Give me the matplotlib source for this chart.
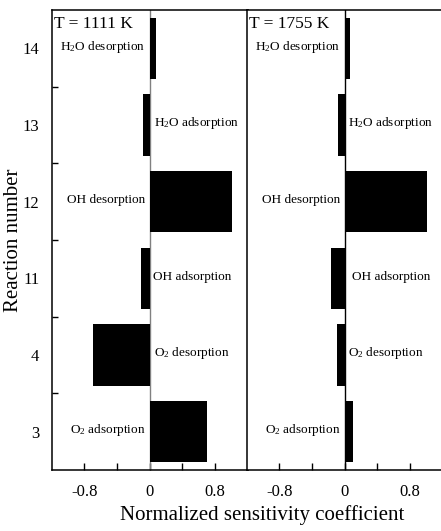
import matplotlib
matplotlib.use("Agg")
import matplotlib.pyplot as plt
import numpy as np

plt.rcParams['font.family'] = ['Liberation Serif', 'DejaVu Serif']
plt.rcParams['mathtext.fontset'] = 'custom'
plt.rcParams['mathtext.rm'] = 'Liberation Serif'
plt.rcParams['mathtext.it'] = 'Liberation Serif:italic'

reactions = ['3', '4', '11', '12', '13', '14']
names = [r'O$\mathregular{_2}$ adsorption', r'O$\mathregular{_2}$ desorption',
         'OH adsorption', 'OH desorption',
         r'H$\mathregular{_2}$O adsorption', r'H$\mathregular{_2}$O desorption']
sens_1111 = [0.70, -0.70, -0.11, 1.01, -0.08, 0.08]
sens_1755 = [0.10, -0.10, -0.17, 1.01, -0.08, 0.07]
titles = ['T = 1111 K', 'T = 1755 K']
xticks = [-0.8, -0.4, 0, 0.4, 0.8]
xticklabels = ['-0.8', '', '0', '', '0.8']

# label x offset (data units) for each panel
label_x = [[-0.05, 0.05, 0.04, -0.05, 0.05, -0.05],
           [-0.05, 0.04, 0.085, -0.05, 0.035, -0.05]]

W, H = 441, 531
fig = plt.figure(figsize=(W / 100, H / 100), dpi=100)
ax_w = 196 / W
bottom = (H - 470) / H
height = 460 / H
ax1 = fig.add_axes([51.7 / W, bottom, ax_w, height])
ax2 = fig.add_axes([246.7 / W, bottom, ax_w, height])

y = np.arange(len(reactions))
for i, (ax, vals, title) in enumerate(zip([ax1, ax2], [sens_1111, sens_1755], titles)):
    ax.barh(y, vals, height=0.8, color='black', zorder=3)
    ax.axvline(0, color='gray' if i == 0 else 'black', lw=1.0, zorder=2)
    ax.set_xlim(-1.2, 1.2)
    ax.set_ylim(-0.5, len(reactions) - 0.5)
    ax.set_xticks(xticks)
    ax.set_xticklabels(xticklabels)
    ax.tick_params(axis='x', direction='in', length=5, width=1.0,
                   labelsize=12, pad=10, top=False)
    for s in ax.spines.values():
        s.set_linewidth(1.1)
    ax.text(0.01, 0.988, title, transform=ax.transAxes, ha='left', va='top',
            fontsize=12.5)
    for j, (v, nm) in enumerate(zip(vals, names)):
        lx = label_x[i][j]
        ax.text(lx, y[j] + 0.02, nm, ha='right' if lx < 0 else 'left',
                va='center', fontsize=9.5)

ax1.set_yticks(y)
ax1.set_yticklabels(reactions)
ax1.set_yticks(np.arange(len(reactions) - 1) + 0.5, minor=True)
ax1.tick_params(axis='y', which='major', length=0, labelsize=12, pad=9)
ax1.tick_params(axis='y', which='minor', direction='in', length=4.5, width=1.0)
ax2.set_yticks([])
ax2.spines['right'].set_visible(False)

fig.text(262 / W, (H - 515) / H, 'Normalized sensitivity coefficient',
         ha='center', va='center', fontsize=15)
fig.text(14 / W, (H - 240) / H, 'Reaction number', rotation=90,
         ha='center', va='center', fontsize=15)

fig.savefig('out.png', dpi=100)
